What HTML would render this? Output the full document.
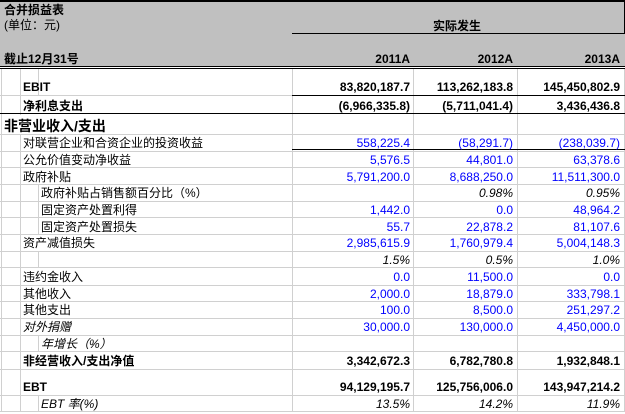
<!DOCTYPE html>
<html><head><meta charset="utf-8"><style>
html,body{margin:0;padding:0;background:#fff;width:625px;height:414px;overflow:hidden}
svg{display:block}
text{font-family:"Liberation Sans","Noto Sans CJK SC",sans-serif;font-size:12px;fill:#000}
.b{font-weight:bold}
.i{font-style:italic}
.bl{fill:#0000ff}
.r{text-anchor:end}
</style></head><body>
<svg width="625" height="414" viewBox="0 0 625 414" xmlns="http://www.w3.org/2000/svg">
<rect x="0" y="0" width="625" height="67" fill="#c0c0c0"/>
<g stroke="#d0d0d0" stroke-width="1">
<line x1="0" y1="95.5" x2="625" y2="95.5"/>
<line x1="0" y1="134.5" x2="625" y2="134.5"/>
<line x1="0" y1="151.5" x2="625" y2="151.5"/>
<line x1="0" y1="167.5" x2="625" y2="167.5"/>
<line x1="0" y1="184.5" x2="625" y2="184.5"/>
<line x1="0" y1="201.5" x2="625" y2="201.5"/>
<line x1="0" y1="217.5" x2="625" y2="217.5"/>
<line x1="0" y1="234.5" x2="625" y2="234.5"/>
<line x1="0" y1="251.5" x2="625" y2="251.5"/>
<line x1="0" y1="267.5" x2="625" y2="267.5"/>
<line x1="0" y1="285.5" x2="625" y2="285.5"/>
<line x1="0" y1="301.5" x2="625" y2="301.5"/>
<line x1="0" y1="318.5" x2="625" y2="318.5"/>
<line x1="0" y1="335.5" x2="625" y2="335.5"/>
<line x1="0" y1="351.5" x2="625" y2="351.5"/>
<line x1="0" y1="369.5" x2="625" y2="369.5"/>
<line x1="0" y1="395.5" x2="625" y2="395.5"/>
<line x1="0" y1="411.5" x2="625" y2="411.5"/>
<line x1="1.5" y1="68" x2="1.5" y2="412"/>
<line x1="20.5" y1="68" x2="20.5" y2="115"/>
<line x1="20.5" y1="134" x2="20.5" y2="412"/>
<line x1="292.5" y1="68" x2="292.5" y2="412"/>
<line x1="413.5" y1="68" x2="413.5" y2="412"/>
<line x1="517.5" y1="68" x2="517.5" y2="412"/>
<line x1="624.5" y1="68" x2="624.5" y2="412"/>
<line x1="38.5" y1="68" x2="38.5" y2="95"/>
<line x1="38.5" y1="184" x2="38.5" y2="234"/>
<line x1="38.5" y1="251" x2="38.5" y2="267"/>
<line x1="38.5" y1="335" x2="38.5" y2="351"/>
<line x1="38.5" y1="395" x2="38.5" y2="412"/>
</g>
<g stroke="#000">
<line x1="0" y1="1" x2="625" y2="1" stroke-width="2"/>
<line x1="292" y1="33.5" x2="625" y2="33.5"/>
<line x1="624.5" y1="0" x2="624.5" y2="34"/>
<line x1="0" y1="66.5" x2="625" y2="66.5"/>
<line x1="0" y1="68.5" x2="625" y2="68.5"/>
<line x1="292" y1="95.5" x2="625" y2="95.5"/>
<line x1="0" y1="113.5" x2="625" y2="113.5"/>
<line x1="292" y1="149.5" x2="625" y2="149.5"/>
</g>
<text x="4" y="14" class="b">合并损益表</text>
<text x="4" y="29">(单位：元)</text>
<text x="457" y="30" class="b" text-anchor="middle">实际发生</text>
<text x="4" y="63" class="b">截止12月31号</text>
<text x="410" y="63" class="b r">2011A</text>
<text x="513" y="63" class="b r">2012A</text>
<text x="620" y="63" class="b r">2013A</text>

<text x="23" y="91" class="b">EBIT</text>
<text x="410" y="91" class="b r">83,820,187.7</text>
<text x="513" y="91" class="b r">113,262,183.8</text>
<text x="620" y="91" class="b r">145,450,802.9</text>

<text x="23" y="110" class="b">净利息支出</text>
<text x="410" y="110" class="b r">(6,966,335.8)</text>
<text x="513" y="110" class="b r">(5,711,041.4)</text>
<text x="620" y="110" class="b r">3,436,436.8</text>

<text x="4" y="131" class="b" style="font-size:14px">非营业收入/支出</text>

<text x="23" y="147">对联营企业和合资企业的投资收益</text>
<text x="410" y="147" class="r bl">558,225.4</text>
<text x="513" y="147" class="r bl">(58,291.7)</text>
<text x="620" y="147" class="r bl">(238,039.7)</text>

<text x="23" y="164">公允价值变动净收益</text>
<text x="410" y="164" class="r bl">5,576.5</text>
<text x="513" y="164" class="r bl">44,801.0</text>
<text x="620" y="164" class="r bl">63,378.6</text>

<text x="23" y="181">政府补贴</text>
<text x="410" y="181" class="r bl">5,791,200.0</text>
<text x="513" y="181" class="r bl">8,688,250.0</text>
<text x="620" y="181" class="r bl">11,511,300.0</text>

<text x="41" y="197">政府补贴占销售额百分比（%）</text>
<text x="513" y="197" class="r i">0.98%</text>
<text x="620" y="197" class="r i">0.95%</text>

<text x="41" y="214">固定资产处置利得</text>
<text x="410" y="214" class="r bl">1,442.0</text>
<text x="513" y="214" class="r bl">0.0</text>
<text x="620" y="214" class="r bl">48,964.2</text>

<text x="41" y="231">固定资产处置损失</text>
<text x="410" y="231" class="r bl">55.7</text>
<text x="513" y="231" class="r bl">22,878.2</text>
<text x="620" y="231" class="r bl">81,107.6</text>

<text x="23" y="247">资产减值损失</text>
<text x="410" y="247" class="r bl">2,985,615.9</text>
<text x="513" y="247" class="r bl">1,760,979.4</text>
<text x="620" y="247" class="r bl">5,004,148.3</text>

<text x="410" y="264" class="r i">1.5%</text>
<text x="513" y="264" class="r i">0.5%</text>
<text x="620" y="264" class="r i">1.0%</text>

<text x="23" y="281">违约金收入</text>
<text x="410" y="281" class="r bl">0.0</text>
<text x="513" y="281" class="r bl">11,500.0</text>
<text x="620" y="281" class="r bl">0.0</text>

<text x="23" y="298">其他收入</text>
<text x="410" y="298" class="r bl">2,000.0</text>
<text x="513" y="298" class="r bl">18,879.0</text>
<text x="620" y="298" class="r bl">333,798.1</text>

<text x="23" y="314">其他支出</text>
<text x="410" y="314" class="r bl">100.0</text>
<text x="513" y="314" class="r bl">8,500.0</text>
<text x="620" y="314" class="r bl">251,297.2</text>

<text x="23" y="331" class="i">对外捐赠</text>
<text x="410" y="331" class="r bl">30,000.0</text>
<text x="513" y="331" class="r bl">130,000.0</text>
<text x="620" y="331" class="r bl">4,450,000.0</text>

<text x="41" y="348" class="i">年增长（%）</text>

<text x="23" y="365" class="b">非经营收入/支出净值</text>
<text x="410" y="365" class="b r">3,342,672.3</text>
<text x="513" y="365" class="b r">6,782,780.8</text>
<text x="620" y="365" class="b r">1,932,848.1</text>

<text x="23" y="391" class="b">EBT</text>
<text x="410" y="391" class="b r">94,129,195.7</text>
<text x="513" y="391" class="b r">125,756,006.0</text>
<text x="620" y="391" class="b r">143,947,214.2</text>

<text x="41" y="408" class="i">EBT 率(%)</text>
<text x="410" y="408" class="r i">13.5%</text>
<text x="513" y="408" class="r i">14.2%</text>
<text x="620" y="408" class="r i">11.9%</text>
</svg>
</body></html>
